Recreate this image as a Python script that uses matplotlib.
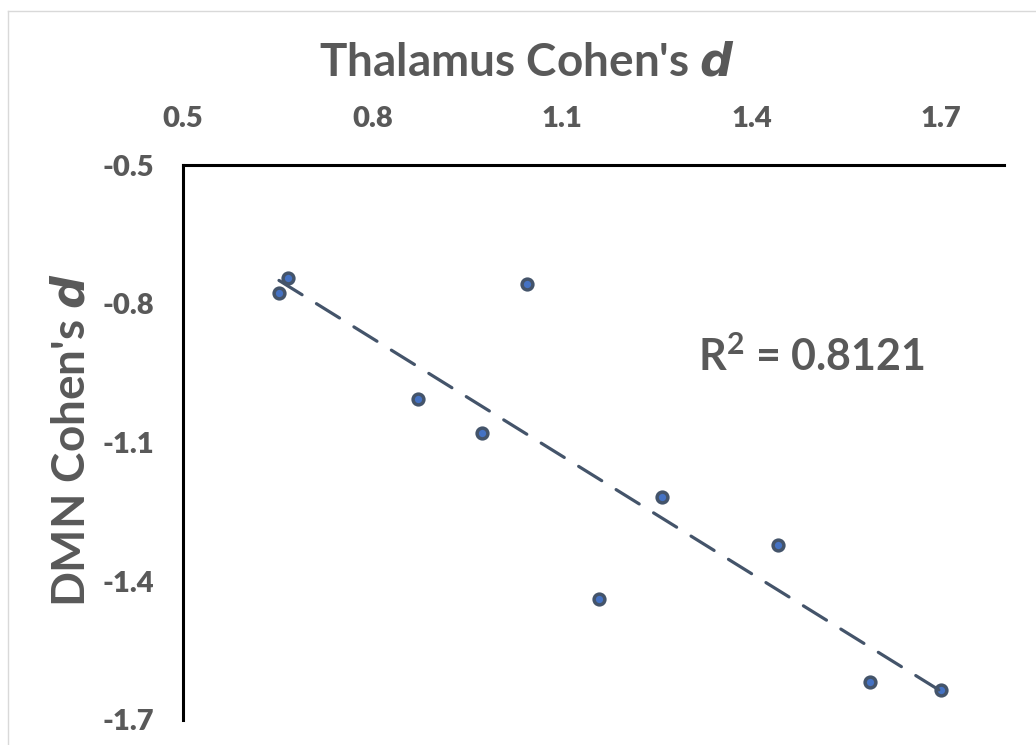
import matplotlib.pyplot as plt
import numpy as np
from matplotlib.lines import Line2D

# data
thalamus_d = [0.652, 0.666, 1.045, 0.872, 0.974, 1.259, 1.442, 1.159, 1.588, 1.701]
dmn_d = [-0.776, -0.745, -0.758, -1.006, -1.079, -1.217, -1.322, -1.438, -1.618, -1.636]
x_ticks = [0.5, 0.8, 1.1, 1.4, 1.7]
y_ticks = [-0.5, -0.8, -1.1, -1.4, -1.7]
r2_label = 'R$^\\mathbf{2}$ = 0.8121'

grey = '#595959'
plt.rcParams['font.family'] = ['Lato', 'DejaVu Sans']
plt.rcParams['font.weight'] = 'bold'
plt.rcParams['axes.unicode_minus'] = False
plt.rcParams['mathtext.fontset'] = 'custom'
plt.rcParams['mathtext.bf'] = 'Lato:bold'
plt.rcParams['mathtext.rm'] = 'Lato:bold'

fig = plt.figure(figsize=(10.36, 7.45), dpi=100)
ax = fig.add_axes([183 / 1036, 1 - 720 / 745, (1004 - 183) / 1036, (720 - 165) / 745])

ax.scatter(thalamus_d, dmn_d, s=60, color='#4472C4', edgecolor='#44546A', linewidth=2.5, zorder=3)

# linear trendline
k, b = np.polyfit(thalamus_d, dmn_d, 1)
xs = np.array([min(thalamus_d), max(thalamus_d)])
ax.plot(xs, k * xs + b, color='#44546A', linestyle=(0, (8.5, 5.3)), linewidth=2.3,
        dash_capstyle='round', zorder=4)

ax.set_xlim(0.5, 1.8)
ax.set_ylim(-1.7, -0.5)
ax.xaxis.tick_top()
ax.set_xticks(x_ticks)
ax.set_xticklabels([f'{v:.1f}' for v in x_ticks], fontsize=21, fontweight='heavy', color=grey)
ax.set_yticks(y_ticks)
ax.set_yticklabels([f'{v:.1f}' for v in y_ticks], fontsize=21, fontweight='heavy', color=grey)
ax.tick_params(axis='x', length=0, pad=24)
ax.tick_params(axis='y', length=0, pad=21)

for s in ['right', 'bottom']:
    ax.spines[s].set_visible(False)
for s in ['top', 'left']:
    ax.spines[s].set_linewidth(2.2)
    ax.spines[s].set_color('black')

ax.text(0.627, 0.654, r2_label, transform=ax.transAxes, fontsize=31, color=grey,
        fontweight='bold', ha='left', va='center')

fig.text(527 / 1036, 1 - 62 / 745, "Thalamus Cohen's $\\mathbf{\\it{d}}$", fontsize=33,
         color=grey, fontweight='bold', ha='center', va='center')
fig.text(72 / 1036, 1 - 440 / 745, "DMN Cohen's $\\mathbf{\\it{d}}$", fontsize=33,
         color=grey, fontweight='bold', ha='center', va='center', rotation=90)

# chart area border
fig.add_artist(Line2D([8 / 1036, 1], [1 - 11 / 745] * 2, transform=fig.transFigure, color='#D9D9D9', lw=1))
fig.add_artist(Line2D([8 / 1036] * 2, [0, 1 - 11 / 745], transform=fig.transFigure, color='#D9D9D9', lw=1))

fig.savefig('out.png', dpi=100)
